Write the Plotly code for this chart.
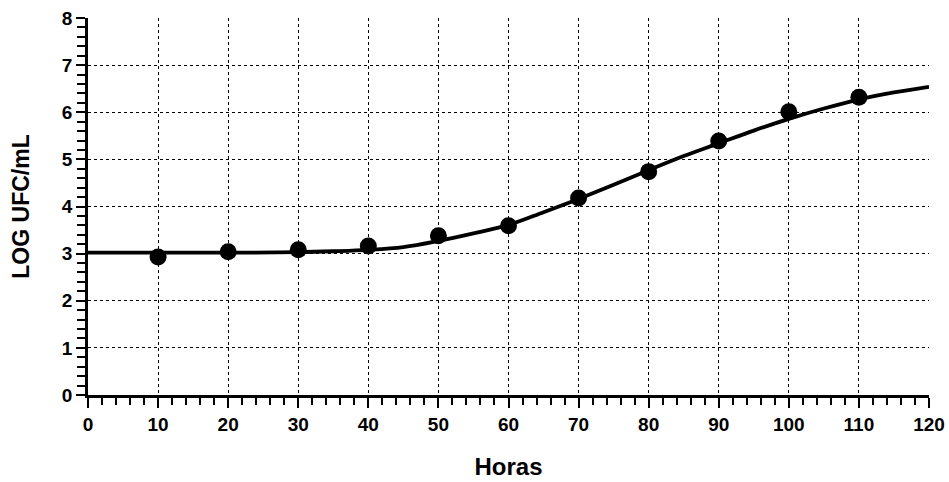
import plotly.graph_objects as go

# Observed data points
hours = [10, 20, 30, 40, 50, 60, 70, 80, 90, 100, 110]
log_ufc = [2.93, 3.04, 3.08, 3.16, 3.38, 3.59, 4.18, 4.74, 5.39, 6.01, 6.32]

# Fitted curve
curve_x = [0, 10, 20, 30, 35, 40, 45, 50, 55, 60, 65, 70, 75, 80, 85, 90, 95, 100, 105, 110, 115, 120]
curve_y = [3.02, 3.02, 3.02, 3.03, 3.05, 3.08, 3.14, 3.27, 3.43, 3.61, 3.88, 4.16, 4.46, 4.77, 5.07, 5.34, 5.61, 5.86, 6.08, 6.27, 6.42, 6.54]

x_ticks = list(range(0, 121, 10))
y_ticks = list(range(0, 9, 1))
x_grid = list(range(10, 120, 10))
y_grid = list(range(1, 8, 1))

fig = go.Figure()

# invisible trace to anchor the grid axes
fig.add_trace(go.Scatter(x=[0], y=[0], xaxis="x2", yaxis="y2", mode="markers",
                         marker=dict(opacity=0), showlegend=False, hoverinfo="skip"))

fig.add_trace(go.Scatter(x=curve_x, y=curve_y, mode="lines",
                         line=dict(color="black", width=3.8, shape="spline"),
                         showlegend=False))
fig.add_trace(go.Scatter(x=hours, y=log_ufc, mode="markers",
                         marker=dict(color="black", size=17, line=dict(width=0)), showlegend=False))

font_family = "Liberation Sans, Arial, sans-serif"

fig.update_layout(
    width=949, height=482,
    margin=dict(l=88, r=20, t=18, b=87),
    paper_bgcolor="white", plot_bgcolor="white",
    font=dict(family=font_family, color="black"),
    xaxis=dict(range=[0, 120], tickvals=x_ticks, showgrid=False, zeroline=False, automargin=False,
               showline=True, linecolor="black", linewidth=2.5,
               ticks="outside", ticklen=10, tickwidth=2, tickcolor="black",
               minor=dict(dtick=2, ticks="outside", ticklen=7, tickwidth=1.8, tickcolor="black"),
               tickfont=dict(size=19, weight="bold", family=font_family),
               title=dict(text="<b>Horas</b>", font=dict(size=24, family=font_family), standoff=25)),
    yaxis=dict(range=[0, 8], tickvals=y_ticks, showgrid=False, zeroline=False, automargin=False,
               showline=True, linecolor="black", linewidth=2.5,
               ticks="outside", ticklen=9, tickwidth=2, tickcolor="black",
               minor=dict(dtick=0.2, ticks="outside", ticklen=8, tickwidth=1.8, tickcolor="black"),
               tickfont=dict(size=19, weight="bold", family=font_family),
               title=dict(text="<b>LOG UFC/mL</b>", font=dict(size=23, family=font_family), standoff=26)),
    xaxis2=dict(range=[0, 120], overlaying="x", tickvals=x_grid, showgrid=True, griddash="dot",
                gridcolor="black", gridwidth=1.2, showticklabels=False, ticks="", zeroline=False,
                showline=False, side="bottom", automargin=False),
    yaxis2=dict(range=[0, 8], overlaying="y", tickvals=y_grid, showgrid=True, griddash="dot",
                gridcolor="black", gridwidth=1.2, showticklabels=False, ticks="", zeroline=False,
                showline=False, side="left", automargin=False),
)

fig.write_html("out.html", config={"displayModeBar": False},
               post_script="document.body.style.margin='0';document.body.style.overflow='hidden';")
